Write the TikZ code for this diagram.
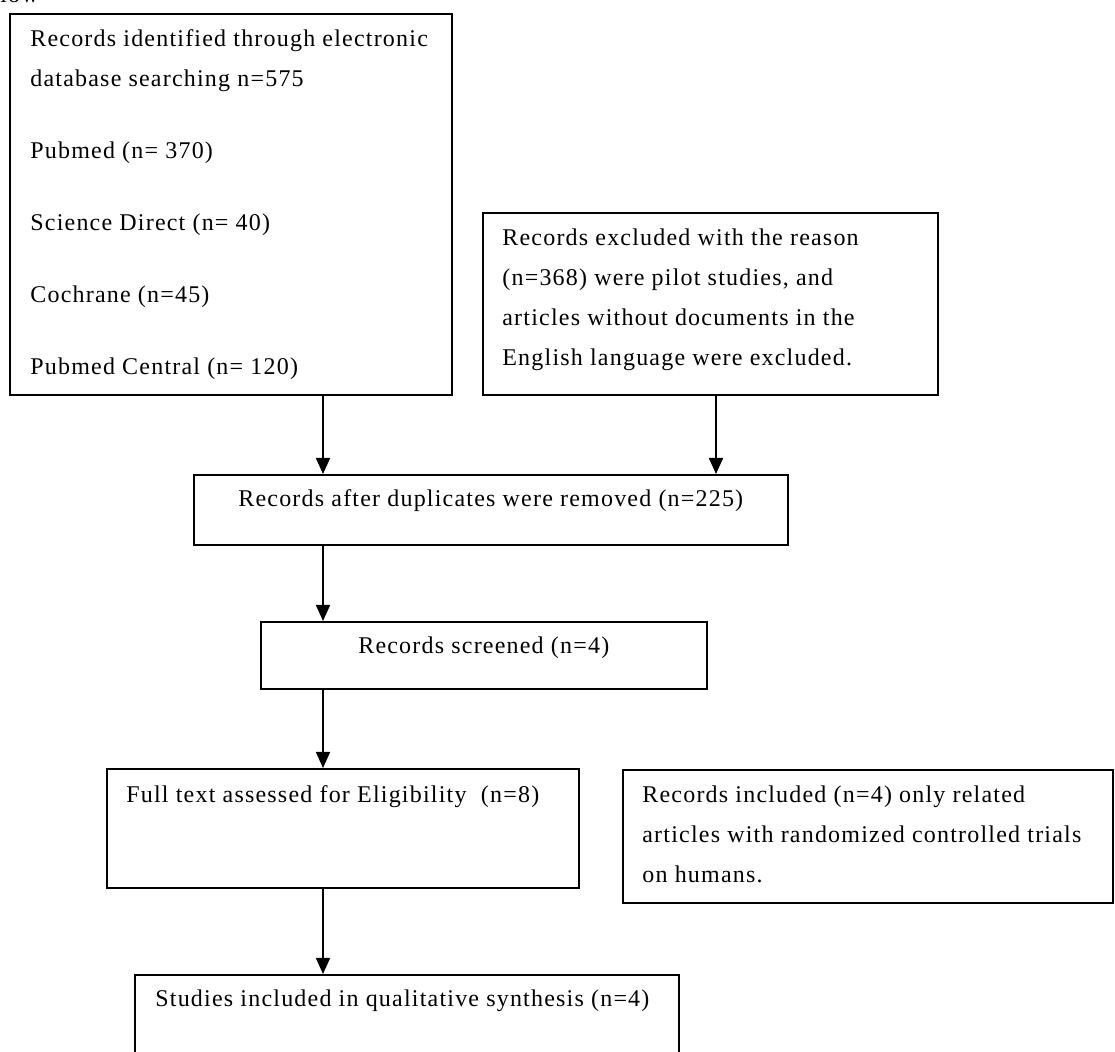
\documentclass[tikz,border=0pt]{standalone}
\usepackage{fontspec}
\setmainfont[LetterSpace=5]{Liberation Serif}
\usetikzlibrary{arrows.meta, positioning}

\begin{document}
\begin{tikzpicture}[x=0.5pt, y=-0.5pt, font=\fontsize{12}{20}\selectfont,
  stage/.style={draw, line width=0.8pt, anchor=north west, inner sep=0pt},
  stagetext/.style={align=left, inner sep=0pt},
  flow/.style={-{Triangle[length=8pt, width=7pt]}, line width=0.8pt}]
  \useasboundingbox (0,0) rectangle (1115,1052);
  % heading, cut off at the top
  \node[anchor=base west, inner sep=0pt] (heading) at (0,3) {low};
  % identification
  \node[stage, minimum width=221pt, minimum height=190.5pt] (search) at (9,13) {};
  \node[stagetext, below right=8.3pt and 10.5pt of search.north west] (search-txt)
    {Records identified through electronic\\ database searching n=575\\[16pt]
     Pubmed (n= 370)\\[16pt] Science Direct (n= 40)\\[16pt]
     Cochrane (n=45)\\[16pt] Pubmed Central (n= 120)};
  \node[stage, minimum width=227.5pt, minimum height=91pt] (excluded) at (482,212) {};
  \node[stagetext, below right=8.3pt and 10pt of excluded.north west] (excluded-txt)
    {Records excluded with the reason\\ (n=368) were pilot studies, and\\
     articles without documents in the\\ English language were excluded.};
  % screening
  \node[stage, minimum width=297pt, minimum height=35pt] (dedup) at (193,474) {};
  \node[stagetext, below=7.8pt of dedup.north] (dedup-txt)
    {Records after duplicates were removed (n=225)};
  \node[stage, minimum width=223pt, minimum height=33.5pt] (screened) at (260,621) {};
  \node[stagetext, below=7.5pt of screened.north] (screened-txt) {Records screened (n=4)};
  % eligibility
  \node[stage, minimum width=236pt, minimum height=59.5pt] (fulltext) at (106,768) {};
  \node[stagetext, below right=8.5pt and 10pt of fulltext.north west] (fulltext-txt)
    {Full text assessed for Eligibility~~(n=8)};
  \node[stage, minimum width=245pt, minimum height=66.5pt] (included) at (622,769) {};
  \node[stagetext, below right=8.3pt and 10pt of included.north west] (included-txt)
    {Records included (n=4) only related\\ articles with randomized controlled trials\\ on humans.};
  % included
  \node[stage, minimum width=272pt, minimum height=60pt] (synthesis) at (134,974) {};
  \node[stagetext, below right=7.5pt and 10.5pt of synthesis.north west] (synthesis-txt)
    {Studies included in qualitative synthesis (n=4)};
  % connectors
  \coordinate (leftspine) at (323,0);
  \coordinate (rightspine) at (716,0);
  \draw[flow] (search.south -| leftspine) -- (dedup.north -| leftspine);
  \draw[flow] (excluded.south -| rightspine) -- (dedup.north -| rightspine);
  \draw[flow] (dedup.south -| leftspine) -- (screened.north -| leftspine);
  \draw[flow] (screened.south -| leftspine) -- (fulltext.north -| leftspine);
  \draw[flow] (fulltext.south -| leftspine) -- (synthesis.north -| leftspine);
\end{tikzpicture}
\end{document}
